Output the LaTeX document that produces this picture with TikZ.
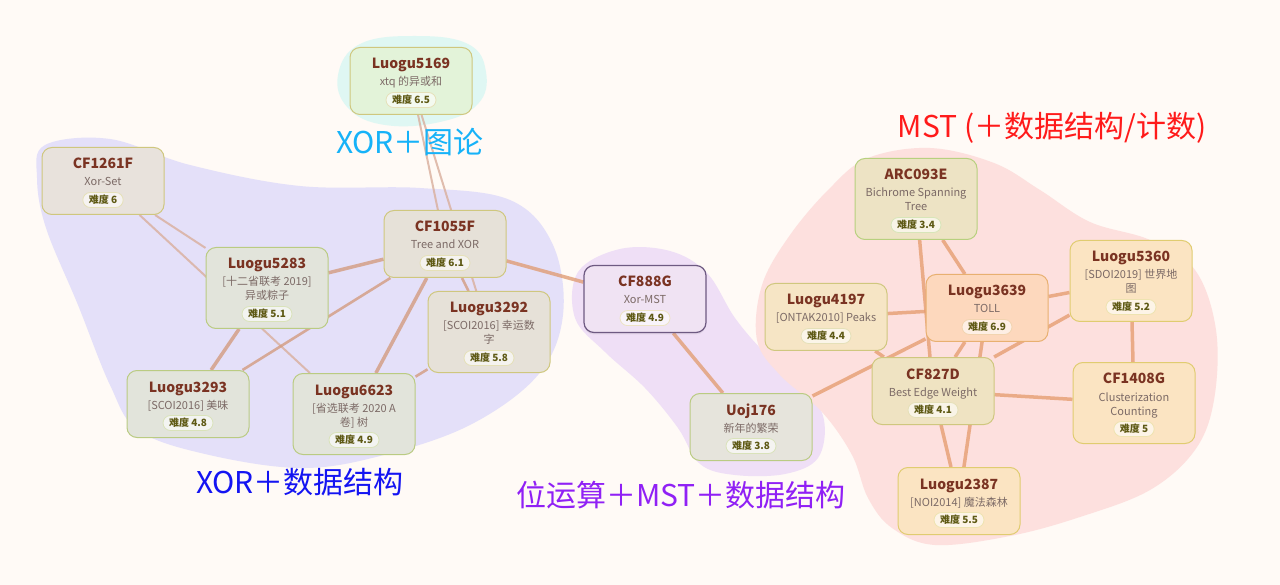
\documentclass[tikz,border=0pt]{standalone}
\usepackage{fontspec}
\setmainfont{Noto Sans CJK SC}
\usetikzlibrary{calc,shadows}
\pgfdeclarelayer{blobs}
\pgfdeclarelayer{edges}
\pgfsetlayers{blobs,edges,main}
\definecolor{bgc}{HTML}{FFFAF6}
\definecolor{blueblob}{HTML}{E4E0F9}
\definecolor{cyanblob}{HTML}{DFF7F3}
\definecolor{purpblob}{HTML}{EFDFF6}
\definecolor{redblob}{HTML}{FDE0DE}
\definecolor{ttlc}{HTML}{7A3322}
\definecolor{subc}{HTML}{7C6A66}
\definecolor{pillc}{HTML}{5E5914}
\definecolor{fGreen}{HTML}{E3F3D9}
\definecolor{fGray}{HTML}{E8E2DC}
\definecolor{fGray2}{HTML}{E6E1D8}
\definecolor{fSage}{HTML}{E2E4DB}
\definecolor{fLav}{HTML}{F0E3F3}
\definecolor{fUoj}{HTML}{E6E4DC}
\definecolor{fArc}{HTML}{EDE3C4}
\definecolor{fSand}{HTML}{F6E5C5}
\definecolor{fPeach}{HTML}{FDD8BD}
\definecolor{fLight}{HTML}{FBE4C2}
\definecolor{f827}{HTML}{EFE3C2}
\definecolor{bOlive}{HTML}{CFC77E}
\definecolor{bGreen}{HTML}{BACB82}
\definecolor{bPurp}{HTML}{6E5A82}
\definecolor{bArc}{HTML}{B7D07E}
\definecolor{bOrange}{HTML}{E8B070}
\definecolor{bYel}{HTML}{E0CC70}
\definecolor{edx}{HTML}{D9AE9C}
\definecolor{edxt}{HTML}{D39C80}
\definecolor{edm}{HTML}{E69E72}
\definecolor{gCyan}{HTML}{16B2F8}
\definecolor{gBlue}{HTML}{1414F2}
\definecolor{gPurp}{HTML}{9020F5}
\definecolor{gRed}{HTML}{FF1A1A}
\tikzset{
  pbox/.style={rectangle, rounded corners=10pt, minimum width=122pt, line width=1pt, inner sep=0pt},
  ptitle/.style={font=\fontsize{14}{16}\selectfont\bfseries, text=ttlc, inner sep=0pt},
  psub/.style={font=\fontsize{11}{13}\selectfont, text=subc, inner sep=0pt},
  ppill/.style={rectangle, rounded corners=7.5pt, minimum height=15pt, inner xsep=6pt, inner ysep=0pt, line width=0.8pt, font=\fontsize{10}{12}\selectfont\bfseries, text=pillc},
  xthin/.style={line width=2pt, draw=edx, opacity=0.8},
  xthick/.style={line width=3.5pt, draw=edxt, opacity=0.8},
  medge/.style={line width=3.5pt, draw=edm, opacity=0.8},
  glabel/.style={font=\fontsize{30}{34}\selectfont, inner sep=0pt},
  blob/.style={line width=0pt, draw=none}
}
\newcommand{\prob}[9]{%
  \node[pbox, minimum height=#3, fill=#4, draw=#5] (#1) at (#2) {};
  \node[ptitle, anchor=base] (#1-t) at ([yshift=-22pt]#1.north) {#6};
  \node[psub, anchor=base] (#1-s) at ([yshift=-39pt]#1.north) {#7};
  \if\relax\detokenize{#8}\relax\else
  \node[psub, anchor=base] (#1-s2) at ([yshift=-53pt]#1.north) {#8};\fi
  \node[ppill, fill=#4!40!white, draw=#5!55!white] (#1-d) at ([yshift=15pt]#1.south) {难度 #9};
}
\begin{document}
\begin{tikzpicture}[x=1pt,y=-1pt]
\useasboundingbox (0,0) rectangle (1280,585);
\begin{pgfonlayer}{blobs}
\fill[bgc] (0,0) rectangle (1280,585);
\fill[blueblob] plot[smooth cycle, tension=0.6] coordinates {(45,145) (110,139) (190,165) (300,186) (420,188) (510,200) (553,245) (563,315) (538,375) (470,425) (380,456) (300,468) (205,454) (138,430) (110,385) (78,305) (46,228) (37,178)};
\fill[cyanblob] plot[smooth cycle, tension=0.7] coordinates {(338,75) (360,44) (415,36) (468,44) (486,72) (478,104) (440,122) (385,125) (348,108)};
\fill[purpblob] plot[smooth cycle, tension=0.6] coordinates {(578,272) (620,249) (670,251) (707,273) (735,318) (766,354) (805,388) (824,420) (818,458) (785,474) (735,475) (700,464) (678,428) (645,388) (605,352) (575,318)};
\fill[redblob] plot[smooth cycle, tension=0.6] coordinates {(830,188) (868,158) (930,148) (994,163) (1040,190) (1090,222) (1150,240) (1195,270) (1216,330) (1214,400) (1195,450) (1150,490) (1080,517) (1010,536) (935,545) (892,528) (868,498) (852,455) (822,412) (780,375) (757,340) (762,285) (790,235)};
\end{pgfonlayer}

\prob{n5169}{411,81}{67pt}{fGreen}{bOlive}{Luogu5169}{xtq 的异或和}{}{6.5}
\prob{n1261}{103,181}{67pt}{fGray}{bOlive}{CF1261F}{Xor-Set}{}{6}
\prob{n1055}{445,244}{67pt}{fGray2}{bOlive}{CF1055F}{Tree and XOR}{}{6.1}
\prob{n5283}{267,288}{81pt}{fSage}{bGreen}{Luogu5283}{[十二省联考 2019]}{异或粽子}{5.1}
\prob{n3292}{489,332}{81pt}{fGray2}{bOlive}{Luogu3292}{[SCOI2016] 幸运数}{字}{5.8}
\prob{n3293}{188,404}{67pt}{fSage}{bGreen}{Luogu3293}{[SCOI2016] 美味}{}{4.8}
\prob{n6623}{354,414}{81pt}{fSage}{bGreen}{Luogu6623}{[省选联考 2020 A}{卷] 树}{4.9}
\node[pbox, minimum height=67pt, fill=fLav, draw=bPurp, line width=1.2pt, drop shadow={opacity=0.12, shadow xshift=0pt, shadow yshift=-2pt}] (n888) at (645,299) {};
\node[ptitle, anchor=base] (n888-t) at ([yshift=-22pt]n888.north) {CF888G};
\node[psub, anchor=base] (n888-s) at ([yshift=-39pt]n888.north) {Xor-MST};
\node[ppill, fill=fLav!40!white, draw=fArc] (n888-d) at ([yshift=15pt]n888.south) {难度 4.9};
\prob{uoj}{751,427}{67pt}{fUoj}{bGreen}{Uoj176}{新年的繁荣}{}{3.8}
\prob{arc}{916,199}{81pt}{fArc}{bArc}{ARC093E}{Bichrome Spanning}{Tree}{3.4}
\prob{n5360}{1131,281}{81pt}{fLight}{bYel}{Luogu5360}{[SDOI2019] 世界地}{图}{5.2}
\prob{n4197}{826,317}{67pt}{fSand}{bOlive}{Luogu4197}{[ONTAK2010] Peaks}{}{4.4}
\prob{n3639}{987,308}{67pt}{fPeach}{bOrange}{Luogu3639}{TOLL}{}{6.9}
\prob{n827}{933,391}{67pt}{f827}{bOlive}{CF827D}{Best Edge Weight}{}{4.1}
\prob{n1408}{1134,403}{81pt}{fLight}{bYel}{CF1408G}{Clusterization}{Counting}{5}
\prob{n2387}{959,501}{67pt}{fLight}{bYel}{Luogu2387}{[NOI2014] 魔法森林}{}{5.5}

\begin{pgfonlayer}{edges}
\draw[xthin] (n5169) -- (n1055);
\draw[xthin] (n5169) -- (n3292);
\draw[xthick, line width=2.6pt] (n1055) -- (n3292);
\draw[xthin] (n1261) -- (n5283);
\draw[xthin] (n1261) -- (n6623);
\draw[xthick] (n5283) -- (n1055);
\draw[xthick] (n5283) -- (n3293);
\draw[xthick, line width=2.6pt] (n1055) -- (n3293);
\draw[xthick] (n1055) -- (n6623);
\draw[xthick, line width=2.6pt] (n6623) -- (n3292);
\draw[xthick, draw=edm!70!edxt] (n1055) -- (n888);
\draw[medge, draw=edm!80!edxt] (n888) -- (uoj);
\draw[medge] (uoj) -- (n3639);
\draw[medge] (n4197) -- (n3639);
\draw[medge] (n4197) -- (n827);
\draw[medge] (arc) -- (n3639);
\draw[medge] (arc) -- (n827);
\draw[medge] (n3639) -- (n5360);
\draw[medge] (n5360) -- (n827);
\draw[medge] (n3639) -- (n827);
\draw[medge] (n3639) -- (n2387);
\draw[medge] (n827) -- (n2387);
\draw[medge] (n827) -- (n1408);
\draw[medge] (n5360) -- (n1408);
\end{pgfonlayer}

\node[glabel, text=gCyan] (lxg) at (410,142) {XOR＋图论};
\node[glabel, text=gBlue] (lxd) at (300,482) {XOR＋数据结构};
\node[glabel, text=gPurp] (lbm) at (681,495) {位运算＋MST＋数据结构};
\node[glabel, text=gRed] (lmst) at (1052,128) {MST (＋数据结构/计数)};
\end{tikzpicture}
\end{document}
